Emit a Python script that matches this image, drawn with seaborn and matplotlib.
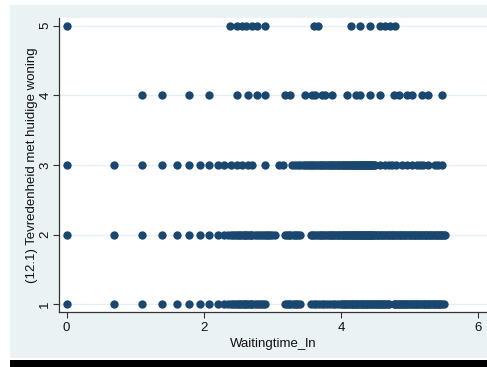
import numpy as np
import pandas as pd
import matplotlib
matplotlib.use("Agg")
import matplotlib.pyplot as plt
import seaborn as sns

# Waiting time (log) per satisfaction score
x_sat5 = [0.00, 2.38, 2.48, 2.55, 2.62, 2.70, 2.77, 2.89, 3.61, 3.66,
          4.14, 4.28, 4.43, 4.57, 4.64, 4.72, 4.79]
x_sat4 = [1.10, 1.39, 1.79, 2.08, 2.48, 2.64, 2.77, 2.89, 3.18, 3.26,
          3.47, 3.58, 3.62, 3.72, 3.77, 3.87, 4.09, 4.22, 4.28, 4.43,
          4.57, 4.78, 4.84, 4.96, 5.04, 5.18, 5.27, 5.48]
x_sat3 = [0.00, 0.69, 1.10, 1.39, 1.61, 1.79, 1.95, 2.08, 2.20, 2.30,
          2.40, 2.48, 2.56, 2.64, 2.71, 2.89, 3.09, 3.16, 3.28, 3.33,
          3.37, 3.41, 3.45, 3.48, 3.50, 3.53, 3.56, 3.58, 3.61, 3.64,
          3.66, 3.69, 3.71, 3.74, 3.76, 3.78, 3.81, 3.83, 3.85, 3.87,
          3.89, 3.91, 3.93, 3.95, 3.97, 3.99, 4.01, 4.03, 4.04, 4.06,
          4.08, 4.10, 4.11, 4.13, 4.14, 4.16, 4.17, 4.19, 4.20, 4.22,
          4.23, 4.25, 4.26, 4.28, 4.29, 4.30, 4.32, 4.33, 4.34, 4.36,
          4.37, 4.38, 4.39, 4.41, 4.42, 4.43, 4.44, 4.46, 4.47, 4.48,
          4.50, 4.57, 4.64, 4.70, 4.74, 4.81, 4.89, 4.96, 5.03, 5.11,
          5.16, 5.20, 5.27, 5.37, 5.42, 5.47]
x_sat2 = [0.00, 0.69, 1.10, 1.39, 1.61, 1.79, 1.95, 2.08, 2.20, 2.30,
          2.35, 2.40, 2.43, 2.45, 2.48, 2.51, 2.53, 2.56, 2.58, 2.60,
          2.62, 2.64, 2.67, 2.69, 2.71, 2.74, 2.77, 2.80, 2.83, 2.86,
          2.89, 2.92, 2.94, 2.97, 3.00, 3.04,
          3.18, 3.22, 3.24, 3.26, 3.30, 3.33, 3.35, 3.37, 3.40,
          3.56, 3.58, 3.61, 3.64, 3.66, 3.69, 3.71, 3.74, 3.76, 3.78,
          3.81, 3.83, 3.85, 3.87, 3.89, 3.91, 3.93, 3.95, 3.97, 3.99,
          4.01, 4.03, 4.04, 4.06, 4.08, 4.10, 4.11, 4.13, 4.14, 4.16,
          4.17, 4.19, 4.20, 4.22, 4.23, 4.25, 4.26, 4.28, 4.29, 4.30,
          4.32, 4.33, 4.34, 4.36, 4.37, 4.38, 4.39, 4.41, 4.42, 4.43,
          4.44, 4.46, 4.47, 4.48, 4.50, 4.52, 4.54, 4.56, 4.58, 4.60,
          4.62, 4.64, 4.66, 4.68, 4.70, 4.72, 4.74, 4.76, 4.78, 4.80,
          4.82, 4.84, 4.86, 4.88, 4.90, 4.92, 4.94, 4.96, 4.98, 5.00,
          5.02, 5.04, 5.06, 5.08, 5.10, 5.12, 5.14, 5.16, 5.18, 5.20,
          5.22, 5.24, 5.26, 5.28, 5.30, 5.32, 5.34, 5.36, 5.38, 5.40,
          5.42, 5.44, 5.46, 5.48, 5.50, 5.52]
x_sat1 = [0.00, 0.69, 1.10, 1.39, 1.61, 1.79, 1.95, 2.08, 2.20, 2.30,
          2.35, 2.40, 2.43, 2.45, 2.48, 2.51, 2.53, 2.56, 2.58, 2.60,
          2.62, 2.64, 2.67, 2.69, 2.71, 2.74, 2.77, 2.80, 2.83, 2.86,
          2.89,
          3.18, 3.22, 3.24, 3.26, 3.30, 3.33, 3.35, 3.37, 3.40,
          3.56, 3.60, 3.64, 3.68, 3.72, 3.76, 3.80, 3.84, 3.88, 3.92,
          3.96, 4.00, 4.02, 4.04, 4.06, 4.08, 4.10, 4.12, 4.14, 4.16,
          4.18, 4.20, 4.22, 4.24, 4.26, 4.28, 4.30, 4.32, 4.34, 4.36,
          4.38, 4.40, 4.42, 4.44, 4.46, 4.48, 4.50, 4.52, 4.54, 4.56,
          4.58, 4.60, 4.62, 4.64, 4.66, 4.68, 4.70,
          4.77, 4.79, 4.81, 4.83, 4.85, 4.87, 4.89, 4.91, 4.93, 4.95,
          4.97, 4.99, 5.01, 5.03, 5.05, 5.07, 5.09, 5.11, 5.13, 5.15,
          5.17, 5.19, 5.21, 5.23, 5.25, 5.27, 5.29, 5.31, 5.33, 5.35,
          5.37, 5.39, 5.41, 5.43, 5.45, 5.47, 5.50]

y_ticks = [1, 2, 3, 4, 5]
x_ticks = [0, 2, 4, 6]

frames = []
for score, xs in zip(y_ticks, [x_sat1, x_sat2, x_sat3, x_sat4, x_sat5]):
    frames.append(pd.DataFrame({"Waitingtime_ln": xs, "score": score}))
df = pd.concat(frames, ignore_index=True)

sns.set_style("white")
plt.rcParams["font.family"] = ["Liberation Sans", "DejaVu Sans"]

W, H = 487, 367
fig = plt.figure(figsize=(W / 100, H / 100), dpi=100, facecolor="white")

# graph region background and bottom bar
region = "#EAF2F3"
fig.patches.append(plt.Rectangle((10 / W, 9 / H), 1 - 10 / W, 1 - 14 / H,
                                 transform=fig.transFigure, facecolor=region,
                                 edgecolor="none", zorder=-10))
fig.patches.append(plt.Rectangle((10 / W, 0), 1 - 10 / W, 7 / H,
                                 transform=fig.transFigure, facecolor="black",
                                 edgecolor="none", zorder=-10))

ax = fig.add_axes([59 / W, 55 / H, (W - 59) / W, (312 - 18) / H])
ax.set_facecolor("white")

sns.scatterplot(data=df, x="Waitingtime_ln", y="score", ax=ax,
                color="#1a476f", s=36, linewidth=0, zorder=3)

ax.set_xlim(-0.112, 6.13)
ax.set_ylim(0.89, 5.11)
ax.set_xticks(x_ticks)
ax.set_yticks(y_ticks)
ax.set_xticklabels([str(v) for v in x_ticks])
ax.set_yticklabels([str(v) for v in y_ticks], rotation=90, va="center")

for y in y_ticks:
    ax.axhline(y, color="#E6EEF0", linewidth=1.0, zorder=1)

for side in ["top", "right"]:
    ax.spines[side].set_visible(False)
for side in ["left", "bottom"]:
    ax.spines[side].set_color("#333333")
    ax.spines[side].set_linewidth(0.9)

ax.tick_params(axis="x", direction="out", length=4, width=0.8,
               color="#333333", labelsize=9.5, labelcolor="#111111", pad=3)
ax.tick_params(axis="y", direction="out", length=4, width=0.8,
               color="#333333", labelsize=9.5, labelcolor="#111111", pad=1.5)
ax.tick_params(axis="both", which="both", bottom=True, left=True)

ax.set_xlabel("Waitingtime_ln", fontsize=9.5, color="#111111", labelpad=3)
ax.set_ylabel("(12.1) Tevredenheid met huidige woning", fontsize=9.5,
              color="#111111", labelpad=1)

fig.savefig("out.png", dpi=100, facecolor="white")
